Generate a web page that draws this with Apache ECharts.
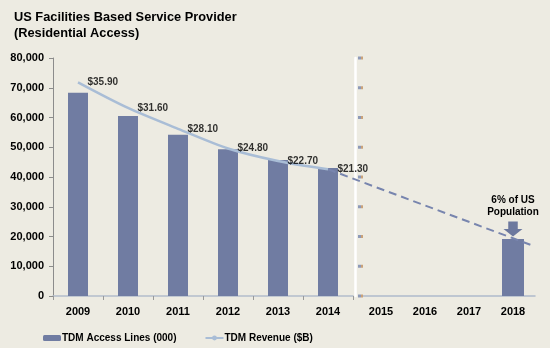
<!DOCTYPE html>
<html><head><meta charset="utf-8">
<script src="https://cdn.jsdelivr.net/npm/echarts@6/dist/echarts.min.js"></script>
<style>html,body{margin:0;padding:0;background:#EDEBE2;}#c{width:550px;height:348px;}</style>
</head><body><div id="c"></div>
<script>
// ---- data ----
const histYears = ['2009','2010','2011','2012','2013','2014'];
const futYears = ['2015','2016','2017','2018'];
const accessLines = [68300, 60500, 54200, 49300, 45700, 43000];
const futAccessLines = [null, null, null, 19200];
const revenue = [35.9, 31.6, 28.1, 24.8, 22.7, 21.3];
const projYears = [2014, 2018, 2018.45];
const projRevenue = [21.3, 9.7, 8.4];
const yTicks = [0, 80000, 10000];
const titleLines = ['US Facilities Based Service Provider', '(Residential Access)'];
const calloutText = ['6% of US', 'Population'];

const FONT = '"Liberation Sans", Arial, sans-serif';
const BAR = '#707CA2';
const LIGHT = '#A9BDD6';
const DASH = '#7885AE';
const INK = '#000';

const chart = echarts.init(document.getElementById('c'), null, {renderer: 'canvas'});
chart.setOption({
  backgroundColor: '#EDEBE2',
  animation: false,
  title: {
    text: titleLines.join('\n'), left: 9, top: 4,
    textStyle: {fontFamily: FONT, fontWeight: 'bold', fontSize: 12.8, lineHeight: 16, color: INK}
  },
  legend: {
    left: 38, top: 328, itemWidth: 18, itemHeight: 6, itemGap: 28,
    data: ['TDM Access Lines (000)', 'TDM Revenue ($B)'],
    textStyle: {fontFamily: FONT, fontWeight: 'bold', fontSize: 10, color: INK, padding: [0,0,0,-4]}
  },
  grid: [
    {left: 53, width: 300, top: 58, height: 238},
    {left: 359, width: 176, top: 58, height: 238},
    {left: 53, width: 484, top: 58, height: 238}
  ],
  xAxis: [
    {gridIndex: 0, type: 'category', data: histYears,
     axisLine: {lineStyle: {color: '#B3BDCB', width: 1.5}},
     axisTick: {show: true, length: 4, lineStyle: {color: '#999'}},
     axisLabel: {fontFamily: FONT, fontWeight: 'bold', fontSize: 11, color: INK, margin: 10}},
    {gridIndex: 1, type: 'category', data: futYears,
     axisLine: {lineStyle: {color: '#AEBACB', width: 1.5}},
     axisTick: {show: false},
     axisLabel: {fontFamily: FONT, fontWeight: 'bold', fontSize: 11, color: INK, margin: 10}},
    {gridIndex: 2, type: 'value', min: 2008.054, max: 2018.519, show: false}
  ],
  yAxis: [
    {gridIndex: 0, type: 'value', min: yTicks[0], max: yTicks[1], interval: yTicks[2],
     splitLine: {show: false},
     axisLine: {show: true, lineStyle: {color: '#8C8C8C'}},
     axisTick: {show: true, length: 4, lineStyle: {color: '#8C8C8C'}},
     axisLabel: {fontFamily: FONT, fontWeight: 'bold', fontSize: 11, color: INK, margin: 9,
       formatter: v => v.toLocaleString('en-US')}},
    {gridIndex: 0, type: 'value', min: 0, max: 40, show: false},
    {gridIndex: 1, type: 'value', min: yTicks[0], max: yTicks[1], interval: yTicks[2],
     offset: 4, splitLine: {show: false},
     axisLine: {show: true, lineStyle: {color: '#FFFFFF', width: 2.5}},
     axisTick: {show: false},
     axisLabel: {inside: true, margin: 3, formatter: () => '{b|}{o|}',
       rich: {b: {width: 3, height: 3, backgroundColor: '#8E9AB8'},
              o: {width: 2, height: 3, backgroundColor: '#C9A27A'}}}},
    {gridIndex: 2, type: 'value', min: 0, max: 40, show: false}
  ],
  series: [
    {name: 'TDM Access Lines (000)', type: 'bar', xAxisIndex: 0, yAxisIndex: 0,
     data: accessLines, barWidth: 20, itemStyle: {color: BAR}, z: 2},
    {name: 'TDM Access Lines (000)', type: 'bar', xAxisIndex: 1, yAxisIndex: 2,
     data: futAccessLines, barWidth: 22, itemStyle: {color: BAR}, z: 2,
     label: {show: true, position: 'top', distance: 21,
       formatter: calloutText.join('\n'),
       fontFamily: FONT, fontWeight: 'bold', fontSize: 10, lineHeight: 12, color: INK},
     markPoint: {
       symbol: 'path://M3,0 L9,0 L9,6 L12,6 L6,12 L0,6 L3,6 Z',
       symbolSize: [19, 15], symbolOffset: [0, -10], symbolKeepAspect: false,
       itemStyle: {color: '#6C789E'}, label: {show: false},
       data: [{coord: ['2018', futAccessLines[3]]}]
     }},
    {name: 'TDM Revenue ($B)', type: 'line', xAxisIndex: 0, yAxisIndex: 1,
     data: revenue, smooth: 0.3, symbol: 'none', z: 4,
     lineStyle: {color: LIGHT, width: 2.5}, itemStyle: {color: LIGHT}},
    {name: 'Revenue labels', type: 'scatter', xAxisIndex: 0, yAxisIndex: 1,
     data: revenue, symbolSize: 1, itemStyle: {color: 'rgba(0,0,0,0)'}, z: 5,
     label: {show: true, position: 'right', distance: 9,
       formatter: p => '$' + p.value.toFixed(2),
       fontFamily: FONT, fontWeight: 'bold', fontSize: 10, color: INK}},
    {name: 'Projection', type: 'line', xAxisIndex: 2, yAxisIndex: 3,
     data: projYears.map((y, i) => [y, projRevenue[i]]), symbol: 'none', z: 3,
     lineStyle: {color: DASH, width: 2, type: [8, 5]}}
  ]
});
</script></body></html>
